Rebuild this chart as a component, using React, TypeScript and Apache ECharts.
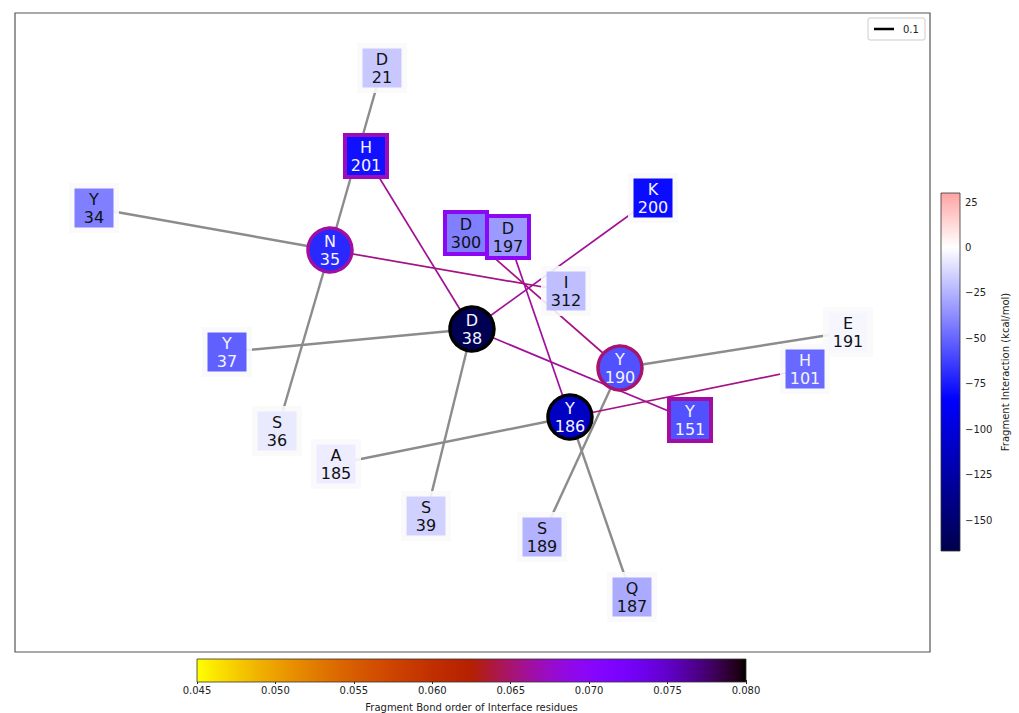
import React, { useEffect, useRef } from "react";
import * as echarts from "echarts";

// ---------- data ----------
const residues = ["D21", "H201", "Y34", "N35", "D300", "D197", "K200", "I312", "D38", "Y37", "Y190", "E191", "H101", "S36", "A185", "Y186", "Y151", "S39", "S189", "Q187"];
const posX = [367, 351, 79, 315, 451, 493, 638, 551, 457, 212, 605, 833, 790, 262, 321, 555, 675, 411, 527, 617];
const posY = [584, 496, 444, 402, 419, 415, 454, 361, 323, 300, 284, 320, 283, 221, 188, 235, 232, 136, 115, 55];
const energy = [-18, -78, -42, -70, -42, -33, -80, -21, -164, -52, -57, -3, -49, -7, -6, -112, -57, -15, -25, -28];
const shapes = ["rect", "rect", "rect", "circle", "rect", "rect", "rect", "rect", "circle", "rect", "circle", "rect", "rect", "rect", "rect", "circle", "rect", "rect", "rect", "rect"];
const borderBond = [0, 0.0671, 0, 0.0663, 0.0695, 0.0695, 0, 0, 0.08, 0, 0.065, 0, 0, 0, 0, 0.08, 0.0663, 0, 0, 0];

const grayEdges: [string, string][] = [
  ["D21", "N35"], ["Y34", "N35"], ["N35", "S36"], ["Y37", "D38"], ["D38", "S39"],
  ["A185", "Y186"], ["Y186", "Q187"], ["S189", "Y190"], ["Y190", "E191"],
];
const bondEdges: [string, string][] = [
  ["H201", "D38"], ["N35", "I312"], ["D38", "K200"], ["D300", "Y190"],
  ["D197", "Y186"], ["D38", "Y151"], ["Y186", "H101"],
];
const bondOrders = [0.066, 0.0655, 0.066, 0.0655, 0.0662, 0.066, 0.0655];

const energyTicks = [25, 0, -25, -50, -75, -100, -125, -150];
const bondTicks = [0.045, 0.05, 0.055, 0.06, 0.065, 0.07, 0.075, 0.08];
const ENERGY_MIN = -167;
const ENERGY_MAX = 30;
const BOND_MIN = 0.045;
const BOND_MAX = 0.08;
const legendLabel = "0.1";

// ---------- colormaps ----------
const clamp = (x: number) => Math.max(0, Math.min(1, x));
const toRgb = (r: number, g: number, b: number) =>
  `rgb(${Math.round(clamp(r) * 255)},${Math.round(clamp(g) * 255)},${Math.round(clamp(b) * 255)})`;

function seismic(t: number) {
  t = clamp(t);
  if (t <= 0.25) return toRgb(0, 0, 0.3 + (0.7 * t) / 0.25);
  if (t <= 0.5) {
    const s = (t - 0.25) / 0.25;
    return toRgb(s, s, 1);
  }
  if (t <= 0.75) {
    const s = (t - 0.5) / 0.25;
    return toRgb(1, 1 - s, 1 - s);
  }
  const s = (t - 0.75) / 0.25;
  return toRgb(1 - 0.5 * s, 0, 0);
}
const energyColor = (v: number) => seismic(0.5 + v / (2 * 167));

function bondColor(v: number) {
  const x = clamp(1 - (v - BOND_MIN) / (BOND_MAX - BOND_MIN));
  return toRgb(Math.sqrt(x), x * x * x, Math.max(0, Math.sin(2 * Math.PI * x)));
}

const N = 80;
const energyStops: string[] = [];
for (let i = 0; i <= N; i++) energyStops.push(energyColor(ENERGY_MIN + ((ENERGY_MAX - ENERGY_MIN) * i) / N));

const FONT = "DejaVu Sans";

export default function App() {
  const ref = useRef<HTMLDivElement>(null);
  useEffect(() => {
    document.body.style.margin = "0";
    if (!ref.current) return;
    const chart = echarts.init(ref.current, undefined, { renderer: "svg" });

    const idx = (n: string) => residues.indexOf(n);
    const pt = (n: string) => [posX[idx(n)], posY[idx(n)]];

    const grayData = grayEdges.map(([a, b]) => ({ coords: [pt(a), pt(b)] }));
    const bondData = bondEdges.map(([a, b], i) => ({
      coords: [pt(a), pt(b)],
      lineStyle: { color: bondColor(bondOrders[i]), width: 1.7 },
    }));

    const haloData: any[] = [];
    const nodeData = residues.map((r, i) => {
      const bordered = borderBond[i] > 0;
      const circle = shapes[i] === "circle";
      if (!bordered && !circle) haloData.push({ value: [posX[i], posY[i]] });
      return {
        name: r,
        value: [posX[i], posY[i], energy[i]],
        symbol: shapes[i],
        symbolSize: circle ? 44 : bordered ? 42 : 39,
        itemStyle: bordered
          ? { opacity: 1, borderColor: bondColor(borderBond[i]), borderWidth: circle ? 3.5 : 4 }
          : { opacity: 1, borderWidth: 0 },
        label: { color: energy[i] < -45 ? "#f4f4ff" : "#111" },
      };
    });

    // colorbar geometry (right and bottom)
    const cbR = { left: 941, top: 193, width: 19, height: 358 };
    const cbB = { left: 197, top: 659, width: 549, height: 23 };

    const vStops = energyStops
      .map((c, i) => ({ offset: 1 - i / N, color: c }))
      .reverse();
    const hStops: { offset: number; color: string }[] = [];
    for (let i = 0; i <= N; i++) {
      const v = BOND_MIN + ((BOND_MAX - BOND_MIN) * i) / N;
      hStops.push({ offset: i / N, color: bondColor(v) });
    }

    const minus = (v: number) => (v < 0 ? "\u2212" + Math.abs(v) : String(v));

    chart.setOption({
      animation: false,
      backgroundColor: "#fff",
      textStyle: { fontFamily: FONT },
      grid: [
        { left: 15, top: 13, width: 915, height: 639, show: true, borderColor: "#555", borderWidth: 1.2, backgroundColor: "#fff" },
        { ...cbR },
        { ...cbB },
      ],
      xAxis: [
        { gridIndex: 0, type: "value", min: 0, max: 915, show: false },
        { gridIndex: 1, type: "value", min: 0, max: 1, show: false },
        {
          gridIndex: 2, type: "value", min: BOND_MIN, max: BOND_MAX, position: "bottom",
          axisLine: { show: false }, splitLine: { show: false },
          axisTick: { show: true, length: 4, lineStyle: { color: "#222" }, customValues: bondTicks },
          axisLabel: { fontSize: 10, color: "#222", margin: 5, customValues: bondTicks, formatter: (v: number) => v.toFixed(3), fontFamily: FONT },
          name: "Fragment Bond order of Interface residues", nameLocation: "middle", nameGap: 22,
          nameTextStyle: { fontSize: 10, color: "#222", fontFamily: FONT },
        },
      ],
      yAxis: [
        { gridIndex: 0, type: "value", min: 0, max: 639, show: false },
        {
          gridIndex: 1, type: "value", min: ENERGY_MIN, max: ENERGY_MAX, position: "right",
          axisLine: { show: false }, splitLine: { show: false },
          axisTick: { show: true, length: 4, lineStyle: { color: "#222" }, customValues: energyTicks },
          axisLabel: { fontSize: 10, color: "#222", margin: 5, customValues: energyTicks, formatter: minus, fontFamily: FONT },
          name: "Fragment Interaction (kcal/mol)", nameLocation: "middle", nameGap: 40, nameRotate: 90,
          nameTextStyle: { fontSize: 10, color: "#222", fontFamily: FONT },
        },
        { gridIndex: 2, type: "value", min: 0, max: 1, show: false },
      ],
      visualMap: [
        {
          type: "continuous", show: false, seriesIndex: 3, dimension: 2,
          min: ENERGY_MIN, max: ENERGY_MAX, inRange: { color: energyStops },
        },
      ],
      series: [
        {
          type: "lines", coordinateSystem: "cartesian2d", xAxisIndex: 0, yAxisIndex: 0, silent: true, z: 1,
          lineStyle: { color: "#8c8c8c", width: 2.4, opacity: 1 }, data: grayData,
        },
        {
          type: "lines", coordinateSystem: "cartesian2d", xAxisIndex: 0, yAxisIndex: 0, silent: true, z: 2,
          lineStyle: { opacity: 1 }, data: bondData,
        },
        {
          type: "scatter", xAxisIndex: 0, yAxisIndex: 0, silent: true, z: 3, symbol: "rect", symbolSize: 50,
          itemStyle: { color: "rgb(249,249,251)", opacity: 0.9 }, data: haloData,
        },
        {
          type: "scatter", xAxisIndex: 0, yAxisIndex: 0, silent: true, z: 4,
          itemStyle: { opacity: 1 },
          label: {
            show: true, position: "inside", fontSize: 16, lineHeight: 18, fontFamily: FONT,
            formatter: (p: any) => p.name.charAt(0) + "\n" + p.name.slice(1),
          },
          data: nodeData,
        },
      ],
      graphic: [
        {
          type: "rect", z: 10,
          shape: { x: cbR.left, y: cbR.top, width: cbR.width, height: cbR.height },
          style: { fill: new echarts.graphic.LinearGradient(0, 0, 0, 1, vStops), stroke: "#333", lineWidth: 0.8 },
        },
        {
          type: "rect", z: 10,
          shape: { x: cbB.left, y: cbB.top, width: cbB.width, height: cbB.height },
          style: { fill: new echarts.graphic.LinearGradient(0, 0, 1, 0, hStops), stroke: "#333", lineWidth: 0.8 },
        },
        {
          type: "rect", z: 10,
          shape: { x: 868, y: 18, width: 57, height: 22, r: 2 },
          style: { fill: "#fff", stroke: "#ccc", lineWidth: 1 },
        },
        {
          type: "line", z: 11,
          shape: { x1: 874, y1: 29, x2: 894, y2: 29 },
          style: { stroke: "#000", lineWidth: 2.5 },
        },
        {
          type: "text", z: 11, x: 903, y: 29,
          style: { text: legendLabel, fontSize: 10, fill: "#222", fontFamily: FONT, verticalAlign: "middle" },
        },
      ],
    });
    return () => chart.dispose();
  }, []);
  return <div ref={ref} style={{ width: 1019, height: 713 }} />;
}
